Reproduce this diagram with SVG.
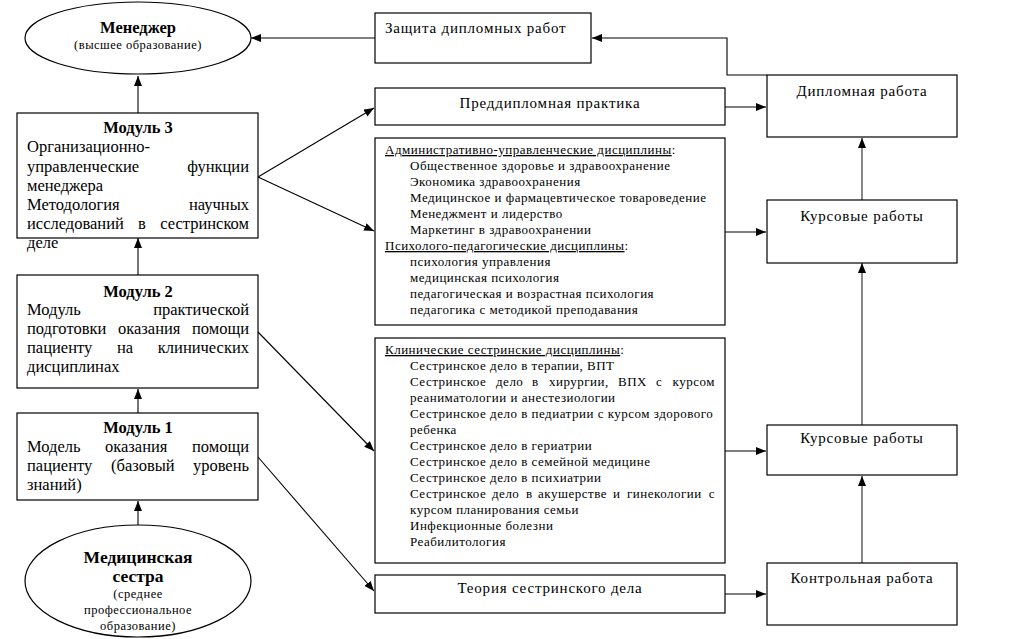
<svg xmlns="http://www.w3.org/2000/svg" width="1009" height="639" viewBox="0 0 1009 639">
<defs>
<marker id="ah" viewBox="0 0 10 8" refX="10" refY="4" markerWidth="10" markerHeight="8" markerUnits="userSpaceOnUse" orient="auto">
<path d="M0,0 L10,4 L0,8 z" fill="#000"/>
</marker>
<style>
.box{fill:#fff;stroke:#000;stroke-width:1.2}
.t{font-family:"Liberation Serif","Times New Roman",serif;fill:#000}
.hd{font-size:16.5px;font-weight:bold}
.m{font-size:16.5px}
.s{font-size:13px;letter-spacing:0.5px}
.b{font-size:15px;letter-spacing:0.8px}
.e{font-size:12.5px;letter-spacing:0.5px}
.c{stroke:#000;stroke-width:1.1;fill:none;marker-end:url(#ah)}
.g{stroke:#555;stroke-width:1.4;fill:none;marker-end:url(#ah)}
.u{text-decoration:underline}
</style>
</defs>
<rect width="1009" height="639" fill="#fff"/>

<g id="connectors">
<line class="c" x1="375" y1="38" x2="251" y2="38"/>
<line class="c" x1="138" y1="113" x2="138" y2="76"/>
<line class="c" x1="138" y1="275" x2="138" y2="238"/>
<line class="c" x1="138" y1="413" x2="138" y2="389"/>
<line class="c" x1="138" y1="525" x2="138" y2="501"/>
<line class="c" x1="258" y1="177" x2="374" y2="108"/>
<line class="c" x1="258" y1="177" x2="374" y2="231"/>
<line class="c" x1="258" y1="332" x2="374" y2="451"/>
<line class="c" x1="258" y1="457" x2="374" y2="591"/>
<polyline class="c" points="767,75 727,75 727,38 592,38"/>
<line class="c" x1="725" y1="107" x2="766" y2="107"/>
<line class="c" x1="725" y1="232" x2="766" y2="232"/>
<line class="g" x1="725" y1="451" x2="766" y2="451"/>
<line class="c" x1="725" y1="594" x2="766" y2="594"/>
<line class="g" x1="862" y1="200" x2="862" y2="138"/>
<line class="g" x1="862" y1="425" x2="862" y2="263"/>
<line class="g" x1="862" y1="563" x2="862" y2="476"/>
</g>

<g id="manager">
<ellipse class="box" cx="138" cy="38" rx="113" ry="36"/>
<text class="t hd" x="138" y="33" text-anchor="middle">Менеджер</text>
<text class="t e" x="138" y="49" text-anchor="middle">(высшее образование)</text>
</g>

<g id="module3">
<rect class="box" x="17" y="113" width="241" height="125"/>
<text class="t hd" x="138" y="133" text-anchor="middle">Модуль 3</text>
<text class="t m" x="27" y="152">Организационно-</text>
<text class="t m" x="27" y="172">управленческие</text>
<text class="t m" x="249" y="172" text-anchor="end">функции</text>
<text class="t m" x="27" y="191">менеджера</text>
<text class="t m" x="27" y="210">Методология</text>
<text class="t m" x="249" y="210" text-anchor="end">научных</text>
<text class="t m" x="27" y="229">исследований</text>
<text class="t m" x="138" y="229">в</text>
<text class="t m" x="249" y="229" text-anchor="end">сестринском</text>
<text class="t m" x="27" y="248">деле</text>
</g>

<g id="module2">
<rect class="box" x="17" y="275" width="241" height="113"/>
<text class="t hd" x="138" y="297" text-anchor="middle">Модуль 2</text>
<text class="t m" x="27" y="315">Модуль</text>
<text class="t m" x="249" y="315" text-anchor="end">практической</text>
<text class="t m" x="27" y="334">подготовки</text>
<text class="t m" x="118" y="334">оказания</text>
<text class="t m" x="249" y="334" text-anchor="end">помощи</text>
<text class="t m" x="27" y="353">пациенту</text>
<text class="t m" x="117" y="353">на</text>
<text class="t m" x="249" y="353" text-anchor="end">клинических</text>
<text class="t m" x="27" y="372">дисциплинах</text>
</g>

<g id="module1">
<rect class="box" x="17" y="413" width="241" height="87"/>
<text class="t hd" x="138" y="433" text-anchor="middle">Модуль 1</text>
<text class="t m" x="27" y="452">Модель</text>
<text class="t m" x="105" y="452">оказания</text>
<text class="t m" x="249" y="452" text-anchor="end">помощи</text>
<text class="t m" x="27" y="471">пациенту</text>
<text class="t m" x="111" y="471">(базовый</text>
<text class="t m" x="249" y="471" text-anchor="end">уровень</text>
<text class="t m" x="27" y="490">знаний)</text>
</g>

<g id="nurse">
<ellipse class="box" cx="138" cy="581" rx="113" ry="56"/>
<text class="t hd" x="138" y="563" text-anchor="middle" style="font-size:17.5px">Медицинская</text>
<text class="t hd" x="138" y="582" text-anchor="middle" style="font-size:17.5px">сестра</text>
<text class="t e" x="138" y="598" text-anchor="middle">(среднее</text>
<text class="t e" x="138" y="614" text-anchor="middle">профессиональное</text>
<text class="t e" x="138" y="630" text-anchor="middle">образование)</text>
</g>

<g id="defense">
<rect class="box" x="375" y="13" width="216" height="50"/>
<text class="t b" x="385" y="33">Защита дипломных работ</text>
</g>

<g id="prediploma">
<rect class="box" x="375" y="88" width="350" height="37"/>
<text class="t b" x="550" y="108" text-anchor="middle">Преддипломная практика</text>
</g>

<g id="admin">
<rect class="box" x="375" y="138" width="350" height="187"/>
<text class="t s" x="385" y="154"><tspan class="u">Административно-управленческие дисциплины</tspan>:</text>
<text class="t s" x="410" y="170">Общественное здоровье и здравоохранение</text>
<text class="t s" x="410" y="186">Экономика здравоохранения</text>
<text class="t s" x="410" y="202">Медицинское и фармацевтическое товароведение</text>
<text class="t s" x="410" y="218">Менеджмент и лидерство</text>
<text class="t s" x="410" y="234">Маркетинг в здравоохранении</text>
<text class="t s" x="385" y="250"><tspan class="u">Психолого-педагогические дисциплины</tspan>:</text>
<text class="t s" x="410" y="266">психология управления</text>
<text class="t s" x="410" y="282">медицинская психология</text>
<text class="t s" x="410" y="298">педагогическая и возрастная психология</text>
<text class="t s" x="410" y="314">педагогика с методикой преподавания</text>
</g>

<g id="clinical">
<rect class="box" x="375" y="338" width="350" height="225"/>
<text class="t s" x="385" y="354"><tspan class="u">Клинические сестринские дисциплины</tspan>:</text>
<text class="t s" x="410" y="370">Сестринское дело в терапии, ВПТ</text>
<text class="t s" x="410" y="386">Сестринское</text>
<text class="t s" x="496" y="386">дело</text>
<text class="t s" x="532" y="386">в</text>
<text class="t s" x="549" y="386">хирургии,</text>
<text class="t s" x="618" y="386">ВПХ</text>
<text class="t s" x="656" y="386">с</text>
<text class="t s" x="715" y="386" text-anchor="end">курсом</text>
<text class="t s" x="410" y="402">реаниматологии и анестезиологии</text>
<text class="t s" x="410" y="418">Сестринское дело в педиатрии с курсом здорового</text>
<text class="t s" x="410" y="434">ребенка</text>
<text class="t s" x="410" y="450">Сестринское дело в гериатрии</text>
<text class="t s" x="410" y="466">Сестринское дело в семейной медицине</text>
<text class="t s" x="410" y="482">Сестринское дело в психиатрии</text>
<text class="t s" x="410" y="498">Сестринское</text>
<text class="t s" x="492" y="498">дело</text>
<text class="t s" x="526" y="498">в</text>
<text class="t s" x="538" y="498">акушерстве</text>
<text class="t s" x="613" y="498">и</text>
<text class="t s" x="627" y="498">гинекологии</text>
<text class="t s" x="715" y="498" text-anchor="end">с</text>
<text class="t s" x="410" y="514">курсом планирования семьи</text>
<text class="t s" x="410" y="530">Инфекционные болезни</text>
<text class="t s" x="410" y="546">Реабилитология</text>
</g>

<g id="theory">
<rect class="box" x="375" y="575" width="350" height="38"/>
<text class="t b" x="550" y="593" text-anchor="middle">Теория сестринского дела</text>
</g>

<g id="diploma">
<rect class="box" x="767" y="75" width="190" height="62"/>
<text class="t b" x="862" y="96" text-anchor="middle">Дипломная работа</text>
</g>

<g id="coursework1">
<rect class="box" x="767" y="200" width="190" height="63"/>
<text class="t b" x="862" y="221" text-anchor="middle">Курсовые работы</text>
</g>

<g id="coursework2">
<rect class="box" x="767" y="425" width="190" height="50"/>
<text class="t b" x="862" y="443" text-anchor="middle">Курсовые работы</text>
</g>

<g id="control">
<rect class="box" x="767" y="563" width="190" height="62"/>
<text class="t b" x="862" y="583" text-anchor="middle">Контрольная работа</text>
</g>
</svg>
